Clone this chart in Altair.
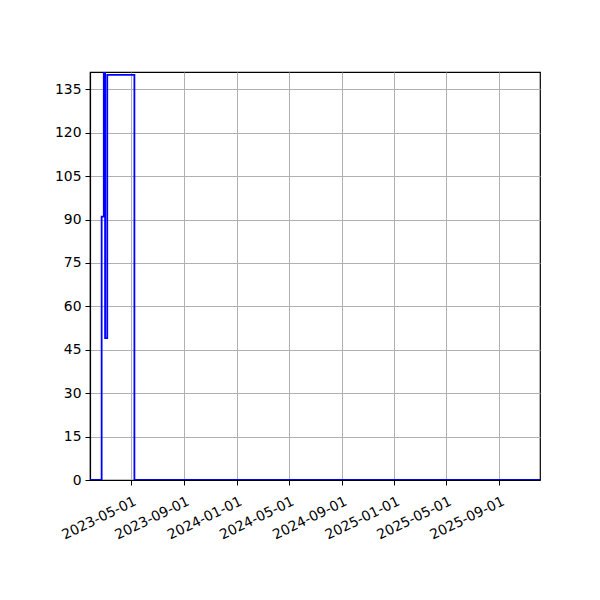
import altair as alt
import pandas as pd

dates = ["2023-01-26", "2023-02-22", "2023-02-27", "2023-03-02", "2023-03-07", "2023-05-09", "2025-12-05"]
values = [0, 91, 141, 49, 140, 0, 0]
tick_dates = ["2023-05-01", "2023-09-01", "2024-01-01", "2024-05-01",
              "2024-09-01", "2025-01-01", "2025-05-01", "2025-09-01"]
y_ticks = [0, 15, 30, 45, 60, 75, 90, 105, 120, 135]

df = pd.DataFrame({"date": dates, "value": values})

def dt(s):
    y, m, d = map(int, s.split("-"))
    return alt.DateTime(year=y, month=m, date=d, utc=True)

chart = alt.Chart(df).mark_line(
    interpolate="step-after", color="#0000ff", strokeWidth=1.8, clip=True
).encode(
    x=alt.X("date:T",
            scale=alt.Scale(type="utc", domain=[dt(dates[0]), dt(dates[-1])], nice=False),
            axis=alt.Axis(values=[dt(s) for s in tick_dates], format="%Y-%m-%d",
                          labelAngle=334, labelAlign="right", labelBaseline="top",
                          labelOverlap=False, labelBound=False, labelFlush=False,
                          labelOffset=1, labelPadding=9,
                          title=None, grid=True)),
    y=alt.Y("value:Q", scale=alt.Scale(domain=[0, 141], nice=False, zero=True),
            axis=alt.Axis(values=y_ticks, title=None, grid=True, labelOverlap=False,
                          labelPadding=4)),
).properties(
    width=450, height=408,
    autosize=alt.AutoSizeParams(type="none"),
    padding={"left": 82, "top": 64, "right": 52, "bottom": 112},
).configure_view(
    stroke="black", strokeWidth=1.2
).configure_axis(
    domainColor="black", tickColor="black", labelColor="black",
    labelFont="DejaVu Sans", labelFontSize=13.9, tickSize=5,
    gridColor="#b0b0b0", gridWidth=1, domainWidth=1.2
)

chart.save("out.html", embed_options={"renderer": "svg", "actions": False})
